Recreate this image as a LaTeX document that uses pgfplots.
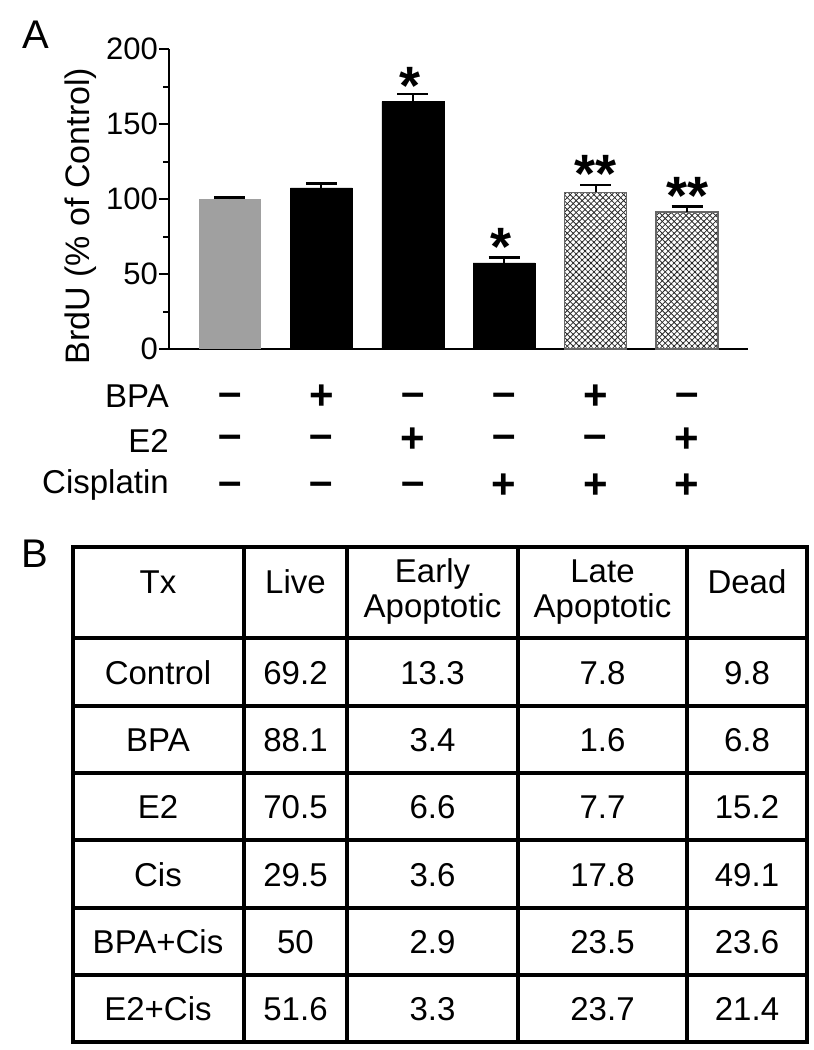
\documentclass[border=0pt]{standalone}
\usepackage{pgfplots}
\pgfplotsset{compat=1.18}
\usepackage{fontspec}
\setmainfont{Liberation Sans}
\usetikzlibrary{patterns.meta}

\newcommand\fs[1]{\fontsize{#1}{#1}\selectfont}
% minus sign lifted so that + and - share one baseline
\newcommand\mi{\raisebox{3.4pt}{–}}
\definecolor{bargrey}{RGB}{160,160,160}

\begin{document}
\begin{tikzpicture}[x=1pt,y=-1pt,
    sg/.style={anchor=base, inner sep=0, font=\fs{42}\bfseries},
    st/.style={anchor=base, inner sep=0, font=\fs{54}\bfseries},
    lab/.style={anchor=base east, inner sep=0, font=\fs{33}}]
\path[use as bounding box] (0,0) rectangle (814,1050);

% ---- panel A ----
\node[anchor=base west,inner sep=0,font=\fs{40}] at (22,48) {A};
\node[rotate=90,anchor=base,inner sep=0,font=\fs{34}] at (89,216) {BrdU (\% of Control)};

\begin{axis}[at={(169pt,-349pt)}, anchor=south west,
    scale only axis, width=579pt, height=300pt,
    xmin=-0.667, xmax=5.667, ymin=0, ymax=200,
    axis lines=left, axis line style={-, line width=2.2pt},
    xtick=\empty,
    ytick={0,50,...,200}, minor ytick={25,75,125,175},
    tick align=outside, major tick length=10pt, minor tick length=6pt,
    every tick/.style={line width=2pt, black},
    /pgf/number format/assume math mode=true,
    yticklabel style={font=\fs{31}, inner sep=1pt},
    clip=false,
    ybar, bar width=62pt, bar shift=0pt,
    error bars/error mark=|,
    error bars/error bar style={line width=2pt, black},
    error bars/error mark options={line width=2.5pt, mark size=15.5pt, black},
  ]
  % control
  \addplot[fill=bargrey, draw=none,
      error bars/.cd, y dir=plus, y explicit]
    coordinates {(0,100) +- (0,1)};
  % BPA, E2, cisplatin alone
  \addplot[fill=black, draw=black,
      error bars/.cd, y dir=plus, y explicit]
    coordinates {(1,107.5) +- (0,3) (2,165) +- (0,5) (3,57.5) +- (0,3.5)};
  % BPA+Cis, E2+Cis (cross hatched)
  \addplot[draw=none, pattern={Lines[angle=45,distance=4.2pt,line width=0.8pt]},
      pattern color=black!85]
    coordinates {(4,104.5) (5,91.5)};
  \addplot[draw=black!60, line width=1.5pt,
      pattern={Lines[angle=-45,distance=4.2pt,line width=0.8pt]},
      pattern color=black!85,
      error bars/.cd, y dir=plus, y explicit]
    coordinates {(4,104.5) +- (0,5) (5,91.5) +- (0,3.5)};

  % significance marks
  \node[st, xshift=-3pt] at (axis cs:2,162.7) {*};
  \node[st, xshift=-3pt] at (axis cs:3,56) {*};
  \node[st] at (axis cs:4,104.3) {**};
  \node[st] at (axis cs:5,90) {**};

  % treatment rows
  \node[lab] at (axis cs:-0.667,-38.7) {BPA};
  \node[lab] at (axis cs:-0.667,-68.7) {E2};
  \node[lab] at (axis cs:-0.667,-96) {Cisplatin};

  \node[sg] at (axis cs:0,-40.5) {\mi};
  \node[sg] at (axis cs:1,-40.5) {+};
  \node[sg] at (axis cs:2,-40.5) {\mi};
  \node[sg] at (axis cs:3,-40.5) {\mi};
  \node[sg] at (axis cs:4,-40.5) {+};
  \node[sg] at (axis cs:5,-40.5) {\mi};

  \node[sg] at (axis cs:0,-68.8) {\mi};
  \node[sg] at (axis cs:1,-68.8) {\mi};
  \node[sg] at (axis cs:2,-68.8) {+};
  \node[sg] at (axis cs:3,-68.8) {\mi};
  \node[sg] at (axis cs:4,-68.8) {\mi};
  \node[sg] at (axis cs:5,-68.8) {+};

  \node[sg] at (axis cs:0,-99.8) {\mi};
  \node[sg] at (axis cs:1,-99.8) {\mi};
  \node[sg] at (axis cs:2,-99.8) {\mi};
  \node[sg] at (axis cs:3,-99.8) {+};
  \node[sg] at (axis cs:4,-99.8) {+};
  \node[sg] at (axis cs:5,-99.8) {+};
\end{axis}

% ---- panel B ----
\node[anchor=base west,inner sep=0,font=\fs{40}] at (21,567) {B};

\foreach \yy in {638,706,773,840,908,975}
  \draw[line width=3.3pt] (72.7,\yy) -- (807,\yy);
\foreach \xx in {244,347,518,687}
  \draw[line width=3.3pt] (\xx,546.7) -- (\xx,1042);
\draw[line width=4pt] (72.7,546.7) rectangle (807,1042);

\begin{scope}[every node/.style={anchor=base, inner sep=0, font=\fs{33}}]
  \node at (158,593) {Tx};
  \node at (295.5,593) {Live};
  \node at (432.5,582) {Early};
  \node at (432.5,617) {Apoptotic};
  \node at (602.5,582) {Late};
  \node at (602.5,617) {Apoptotic};
  \node at (747,593) {Dead};
  \foreach \yy/\ta/\tb/\tc/\td/\te in {
      684/Control/69.2/13.3/7.8/9.8,
      751.5/BPA/88.1/3.4/1.6/6.8,
      818.5/E2/70.5/6.6/7.7/15.2,
      886/Cis/29.5/3.6/17.8/49.1,
      953.5/BPA+Cis/50/2.9/23.5/23.6,
      1020.5/E2+Cis/51.6/3.3/23.7/21.4} {
    \node at (158,\yy) {\ta};
    \node at (295.5,\yy) {\tb};
    \node at (432.5,\yy) {\tc};
    \node at (602.5,\yy) {\td};
    \node at (747,\yy) {\te};
  }
\end{scope}
\end{tikzpicture}
\end{document}
